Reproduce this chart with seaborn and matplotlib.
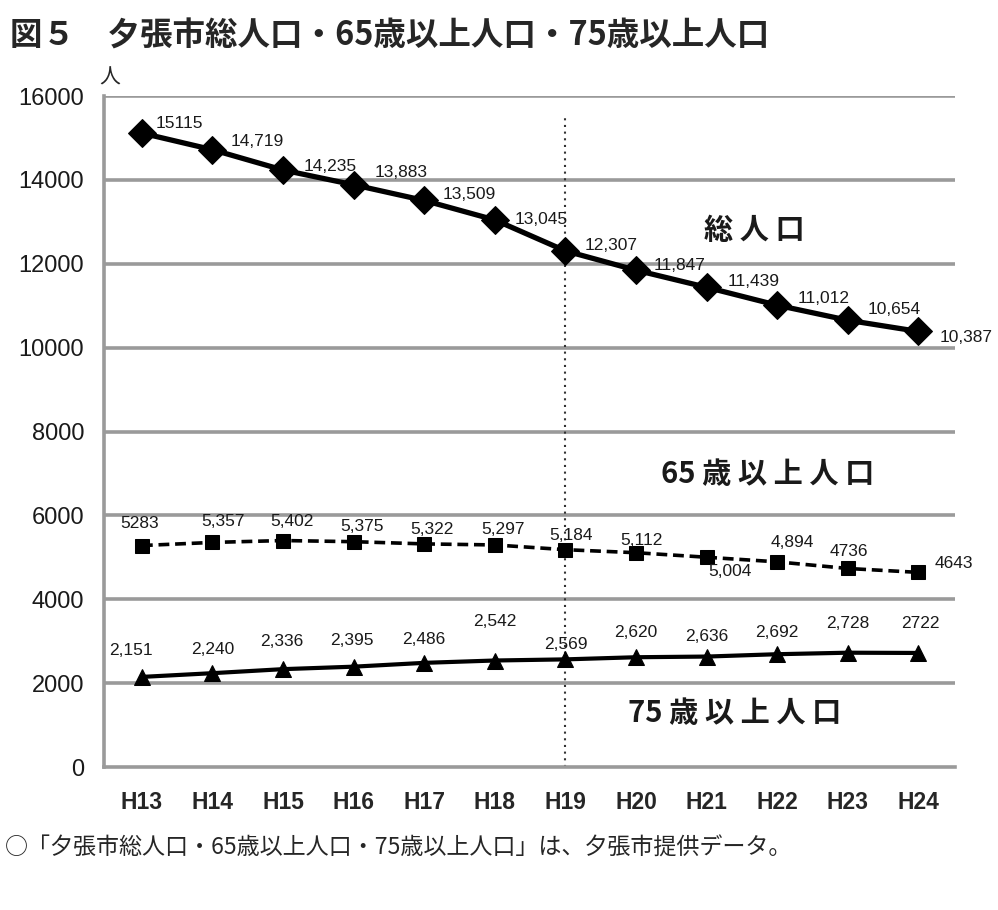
import matplotlib
matplotlib.use("Agg")
import matplotlib.pyplot as plt
import seaborn as sns
import pandas as pd

# data
years = ['H13', 'H14', 'H15', 'H16', 'H17', 'H18', 'H19', 'H20', 'H21', 'H22', 'H23', 'H24']
total = [15115, 14719, 14235, 13883, 13509, 13045, 12307, 11847, 11439, 11012, 10654, 10387]
over65 = [5283, 5357, 5402, 5375, 5322, 5297, 5184, 5112, 5004, 4894, 4736, 4643]
over75 = [2151, 2240, 2336, 2395, 2486, 2542, 2569, 2620, 2636, 2692, 2728, 2722]
total_lbl = ['15115', '14,719', '14,235', '13,883', '13,509', '13,045', '12,307',
             '11,847', '11,439', '11,012', '10,654', '10,387']
over65_lbl = ['5283', '5,357', '5,402', '5,375', '5,322', '5,297', '5,184',
              '5,112', '5,004', '4,894', '4736', '4643']
over75_lbl = ['2,151', '2,240', '2,336', '2,395', '2,486', '2,542', '2,569',
              '2,620', '2,636', '2,692', '2,728', '2722']

df = pd.DataFrame({'year': years, 'total': total, 'o65': over65, 'o75': over75})
df['x'] = range(len(years))

sns.set_style('white')
plt.rcParams['font.family'] = ['Noto Sans CJK JP', 'DejaVu Sans']

fig = plt.figure(figsize=(9.98, 9.10), dpi=100)
ax = fig.add_axes([0.104, 0.157, 0.853, 0.7375])

grey = '#9a9a9a'
for v in range(2000, 16001, 2000):
    ax.axhline(v, color=grey, lw=2.6, zorder=0)
ax.axvline(6, color='#333333', lw=1.5, ls=(0, (1, 2.2)), ymax=0.967, zorder=1)

sns.lineplot(data=df, x='x', y='total', ax=ax, color='black', lw=3.8,
             marker='D', markersize=14, markeredgecolor='black', zorder=3)
sns.lineplot(data=df, x='x', y='o65', ax=ax, color='black', lw=2.6,
             marker='s', markersize=10, markeredgecolor='black', zorder=3)
ax.lines[-1].set_linestyle((0, (3, 1.6)))
sns.lineplot(data=df, x='x', y='o75', ax=ax, color='black', lw=3.0,
             marker='^', markersize=11, markeredgecolor='black', zorder=3)

# label offsets in pixels (right, up)
px = 72 / 100
off_total = [(37, 10), (45, 8), (47, 4), (47, 12), (45, 6), (46, 0), (46, 5),
             (44, 5), (47, 6), (46, 7), (46, 11), (48, -6)]
off_65 = [(-2, 22), (11, 21), (9, 19), (8, 15), (8, 14), (8, 15), (6, 14),
          (5, 12), (23, -14), (15, 19), (1, 17), (35, 9)]
off_75 = [(-11, 26), (0, 24), (-1, 28), (-2, 26), (-1, 23), (0, 39), (0, 15),
          (0, 25), (0, 20), (0, 22), (0, 29), (2, 29)]
lblfont = ['Liberation Sans Narrow', 'Liberation Sans']
for vals, lbls, offs in [(total, total_lbl, off_total), (over65, over65_lbl, off_65),
                         (over75, over75_lbl, off_75)]:
    for i, (v, t, o) in enumerate(zip(vals, lbls, offs)):
        ax.annotate(t, (i, v), xytext=(o[0] * px, o[1] * px), textcoords='offset points',
                    ha='center', va='center', fontsize=12.5, family=lblfont,
                    color='#1a1a1a')

ax.text(8.67, 12800, '総 人 口', fontsize=21, fontweight='bold', ha='center', va='center',
        color='#1a1a1a')
ax.text(8.87, 7000, '65 歳 以 上 人 口', fontsize=21, fontweight='bold', ha='center',
        va='center', color='#1a1a1a')
ax.text(8.39, 1300, '75 歳 以 上 人 口', fontsize=21, fontweight='bold', ha='center',
        va='center', color='#1a1a1a')

ax.set_xlim(-0.54, 11.52)
ax.set_ylim(0, 16000)
ax.set_xticks(df['x'])
ax.set_xticklabels(years, fontsize=16.5, fontweight='bold',
                   family=['Liberation Sans', 'DejaVu Sans'])
ax.set_yticks(range(0, 16001, 2000))
ax.set_yticklabels([str(v) for v in range(0, 16001, 2000)], fontsize=17,
                   family=['Liberation Sans', 'DejaVu Sans'], color='#1a1a1a')
ax.tick_params(axis='x', direction='inout', length=10, width=2, color=grey, pad=12)
ax.tick_params(axis='y', direction='out', length=6, width=2.6, color=grey, pad=8)
ax.set_xlabel('')
ax.set_ylabel('')
for s in ['top', 'right']:
    ax.spines[s].set_visible(False)
for s in ['left', 'bottom']:
    ax.spines[s].set_color(grey)
    ax.spines[s].set_linewidth(2.6)

ax.text(0.007, 1.027, '人', transform=ax.transAxes, fontsize=15, ha='center', va='center')

fig.text(0.01, 0.96, '図５　夕張市総人口・65歳以上人口・75歳以上人口', fontsize=23.4,
         fontweight='bold', ha='left', va='center')
fig.text(0.005, 0.068, '○「夕張市総人口・65歳以上人口・75歳以上人口」は、夕張市提供データ。',
         fontsize=16.6, ha='left', va='center')

fig.savefig('out.png', dpi=100, facecolor='white')
